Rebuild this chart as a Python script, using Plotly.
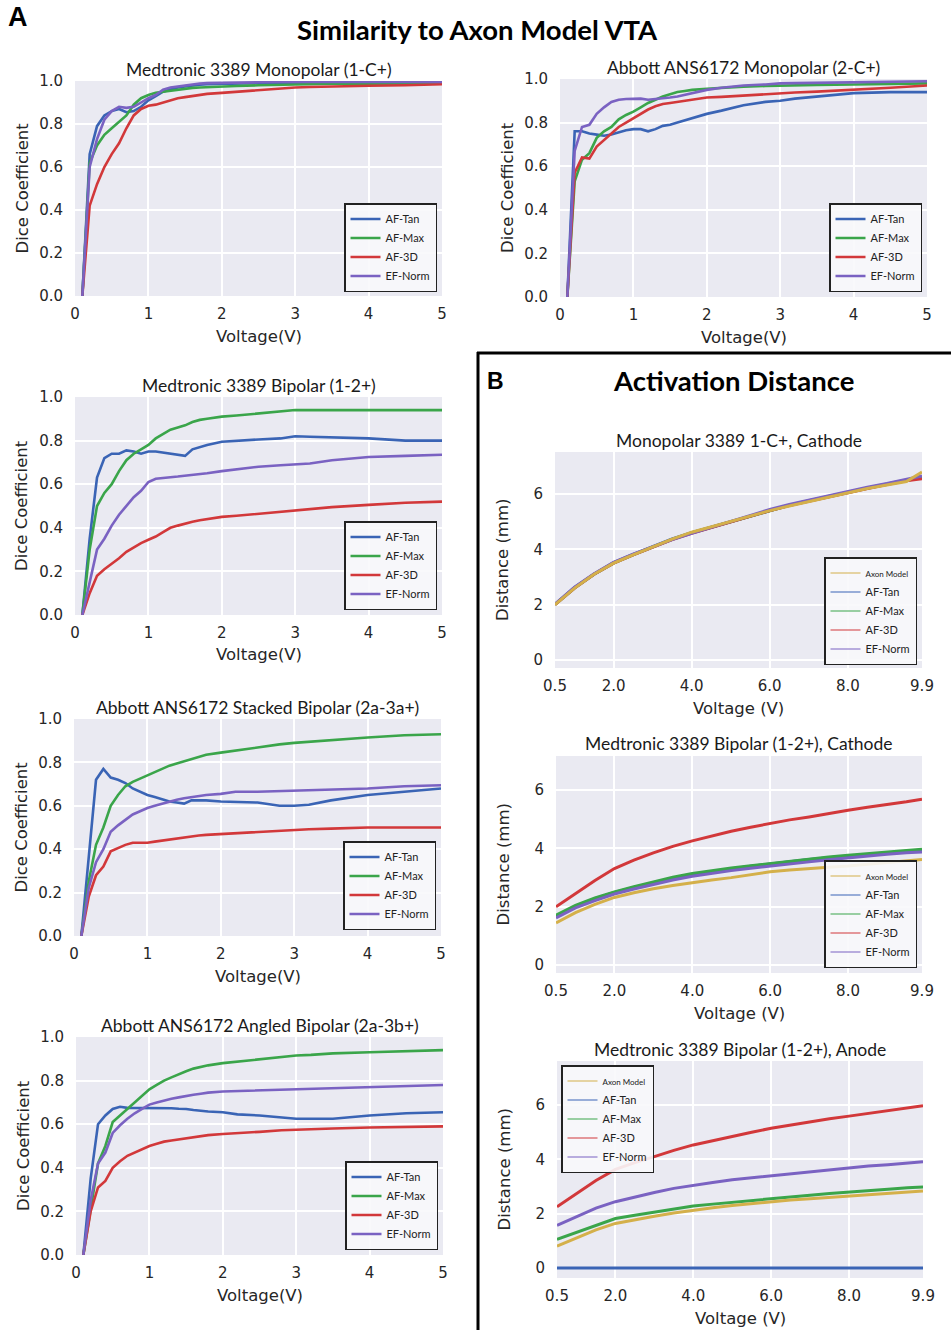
import plotly.graph_objects as go

W, H = 951, 1330

# ---------------- DATA ----------------
SERIES_A = ["AF-Tan", "AF-Max", "AF-3D", "EF-Norm"]
SERIES_B = ["Axon Model", "AF-Tan", "AF-Max", "AF-3D", "EF-Norm"]

volt_a = [0.1, 0.2, 0.3, 0.4, 0.5, 0.6, 0.7, 0.8, 0.9, 1.0, 1.1, 1.2, 1.3, 1.4,
          1.5, 1.6, 1.7, 1.8, 2.0, 2.2, 2.5, 2.8, 3.0, 3.2, 3.5, 4.0, 4.5, 5.0]

# Medtronic 3389 Monopolar (1-C+)
med_mono_tan = [0, .66, .79, .84, .86, .87, .855, .86, .88, .91, .93, .95, .96, .97,
                .975, .98, .983, .985, .987, .988, .99, .99, .99, .99, .99, .99, .99, .99]
med_mono_max = [0, .62, .70, .75, .78, .81, .84, .89, .92, .935, .945, .95, .955, .96,
                .965, .968, .97, .972, .975, .977, .98, .982, .985, .986, .987, .988, .989, .99]
med_mono_3d = [0, .42, .52, .60, .66, .71, .78, .84, .87, .885, .89, .90, .91, .92,
               .925, .93, .935, .94, .945, .95, .958, .965, .97, .972, .975, .978, .98, .985]
med_mono_norm = [0, .60, .73, .82, .86, .88, .875, .88, .90, .92, .935, .96, .97, .975,
                 .98, .985, .988, .99, .992, .993, .994, .995, .995, .995, .995, .995, .995, .995]

# Abbott ANS6172 Monopolar (2-C+)
abb_mono_tan = [0, .76, .76, .75, .745, .74, .745, .755, .765, .77, .77, .76, .77, .785,
                .79, .80, .81, .82, .84, .855, .88, .895, .90, .91, .92, .935, .94, .94]
abb_mono_max = [0, .53, .63, .66, .73, .76, .78, .815, .835, .85, .87, .89, .905, .92,
                .93, .94, .945, .95, .955, .96, .965, .968, .97, .972, .973, .975, .978, .98]
abb_mono_3d = [0, .57, .64, .635, .69, .72, .75, .78, .80, .82, .84, .86, .875, .885,
               .89, .895, .90, .905, .915, .918, .925, .93, .935, .938, .942, .95, .96, .97]
abb_mono_norm = [0, .67, .78, .79, .84, .87, .895, .905, .908, .91, .91, .905, .908, .91,
                 .915, .92, .928, .935, .95, .96, .97, .975, .98, .981, .983, .985, .988, .99]

# Medtronic 3389 Bipolar (1-2+)
med_bi_tan = [0, .35, .63, .72, .74, .74, .755, .75, .74, .75, .75, .745, .74, .735,
              .73, .76, .77, .78, .795, .80, .805, .81, .82, .818, .815, .81, .80, .80]
med_bi_max = [0, .30, .50, .56, .60, .66, .71, .74, .76, .78, .81, .83, .85, .86,
              .87, .885, .895, .90, .91, .915, .925, .935, .94, .94, .94, .94, .94, .94]
med_bi_3d = [0, .10, .18, .21, .235, .26, .29, .31, .33, .345, .36, .38, .40, .41,
             .42, .428, .435, .44, .45, .455, .465, .475, .48, .485, .495, .505, .515, .52]
med_bi_norm = [0, .15, .30, .35, .41, .46, .50, .54, .57, .61, .625, .63, .632, .635,
               .638, .642, .645, .65, .66, .668, .68, .687, .69, .695, .71, .725, .73, .735]

# Abbott ANS6172 Stacked Bipolar (2a-3a+)
abb_stack_tan = [0, .36, .72, .77, .73, .72, .705, .68, .665, .65, .64, .63, .62, .615,
                 .61, .625, .625, .625, .62, .618, .615, .60, .60, .605, .625, .65, .665, .68]
abb_stack_max = [0, .25, .42, .50, .60, .65, .69, .71, .725, .74, .755, .77, .785, .795,
                 .805, .815, .825, .835, .845, .855, .87, .883, .89, .895, .905, .915, .925, .93]
abb_stack_3d = [0, .18, .28, .32, .39, .405, .42, .43, .43, .43, .435, .44, .445, .45,
                .455, .46, .463, .466, .47, .473, .48, .486, .49, .492, .495, .50, .50, .50]
abb_stack_norm = [0, .22, .34, .40, .48, .51, .535, .56, .575, .59, .60, .61, .62, .628,
                  .635, .64, .645, .65, .655, .665, .665, .668, .67, .672, .675, .68, .69, .695]

# Abbott ANS6172 Angled Bipolar (2a-3b+)
abb_ang_tan = [0, .35, .60, .64, .67, .68, .675, .675, .675, .675, .675, .675, .673, .671,
               .67, .665, .66, .658, .655, .645, .64, .63, .625, .625, .625, .64, .65, .655]
abb_ang_max = [0, .22, .42, .50, .61, .64, .67, .70, .73, .76, .78, .80, .815, .83,
               .843, .855, .863, .87, .88, .887, .895, .908, .915, .918, .925, .93, .935, .94]
abb_ang_3d = [0, .20, .31, .34, .40, .43, .455, .47, .485, .50, .51, .52, .525, .53,
              .535, .54, .545, .55, .555, .558, .565, .572, .575, .578, .58, .585, .588, .59]
abb_ang_norm = [0, .25, .42, .47, .56, .595, .625, .65, .67, .69, .70, .71, .717, .723,
                .73, .735, .74, .745, .75, .752, .755, .758, .76, .762, .765, .77, .775, .78]

volt_b = [0.5, 1.0, 1.5, 2.0, 2.5, 3.0, 3.5, 4.0, 4.5, 5.0, 5.5, 6.0, 6.5, 7.0,
          7.5, 8.0, 8.5, 9.0, 9.5, 9.9]

# Monopolar 3389 1-C+, Cathode
mono_cat_axon = [2.0, 2.6, 3.1, 3.5, 3.8, 4.08, 4.37, 4.62, 4.82, 5.0, 5.2, 5.4, 5.57, 5.73,
                 5.9, 6.05, 6.2, 6.33, 6.45, 6.8]
mono_cat_tan = [2.02, 2.62, 3.1, 3.52, 3.82, 4.1, 4.38, 4.6, 4.8, 5.0, 5.22, 5.42, 5.6, 5.76,
                5.92, 6.07, 6.22, 6.36, 6.5, 6.62]
mono_cat_max = [2.0, 2.6, 3.1, 3.5, 3.8, 4.08, 4.36, 4.6, 4.8, 5.0, 5.21, 5.41, 5.59, 5.75,
                5.91, 6.06, 6.21, 6.35, 6.5, 6.6]
mono_cat_3d = [2.0, 2.6, 3.1, 3.5, 3.8, 4.08, 4.35, 4.58, 4.79, 4.99, 5.2, 5.4, 5.58, 5.74,
               5.9, 6.05, 6.2, 6.34, 6.48, 6.55]
mono_cat_norm = [2.02, 2.63, 3.12, 3.53, 3.83, 4.1, 4.35, 4.58, 4.8, 5.02, 5.23, 5.44, 5.62, 5.78,
                 5.95, 6.1, 6.25, 6.38, 6.52, 6.65]

# Medtronic 3389 Bipolar (1-2+), Cathode
bi_cat_axon = [1.45, 1.8, 2.08, 2.32, 2.48, 2.62, 2.73, 2.83, 2.92, 3.0, 3.1, 3.2, 3.26, 3.32,
               3.36, 3.4, 3.46, 3.52, 3.57, 3.62]
bi_cat_tan = [1.68, 2.02, 2.28, 2.49, 2.66, 2.83, 2.98, 3.11, 3.21, 3.31, 3.39, 3.47, 3.55, 3.62,
              3.68, 3.74, 3.8, 3.86, 3.91, 3.95]
bi_cat_max = [1.71, 2.05, 2.3, 2.51, 2.69, 2.86, 3.01, 3.14, 3.24, 3.33, 3.41, 3.49, 3.57, 3.64,
              3.71, 3.77, 3.83, 3.88, 3.93, 3.97]
bi_cat_3d = [2.0, 2.45, 2.9, 3.31, 3.6, 3.85, 4.07, 4.26, 4.43, 4.59, 4.73, 4.86, 4.98, 5.08,
             5.2, 5.31, 5.41, 5.5, 5.6, 5.69]
bi_cat_norm = [1.62, 1.96, 2.21, 2.44, 2.61, 2.77, 2.92, 3.05, 3.15, 3.24, 3.32, 3.4, 3.47, 3.54,
               3.61, 3.68, 3.74, 3.8, 3.85, 3.88]

# Medtronic 3389 Bipolar (1-2+), Anode
bi_an_axon = [0.8, 1.1, 1.4, 1.64, 1.78, 1.9, 2.02, 2.13, 2.22, 2.3, 2.37, 2.44, 2.5, 2.55,
              2.6, 2.64, 2.7, 2.75, 2.79, 2.83]
bi_an_tan = [0, 0, 0, 0, 0, 0, 0, 0, 0, 0, 0, 0, 0, 0, 0, 0, 0, 0, 0, 0]
bi_an_max = [1.05, 1.3, 1.55, 1.82, 1.94, 2.05, 2.17, 2.28, 2.35, 2.42, 2.49, 2.56, 2.62, 2.68,
             2.74, 2.8, 2.85, 2.9, 2.95, 2.98]
bi_an_3d = [2.25, 2.75, 3.22, 3.63, 3.88, 4.1, 4.33, 4.53, 4.69, 4.85, 5.0, 5.14, 5.26, 5.38,
            5.49, 5.59, 5.69, 5.78, 5.88, 5.97]
bi_an_norm = [1.57, 1.9, 2.2, 2.44, 2.62, 2.78, 2.93, 3.05, 3.15, 3.25, 3.32, 3.39, 3.47, 3.55,
              3.62, 3.69, 3.75, 3.8, 3.86, 3.91]

a_ticks = [0, 1, 2, 3, 4, 5]
a_yticks = [0.0, 0.2, 0.4, 0.6, 0.8, 1.0]
b_ticks = [0.5, 2.0, 4.0, 6.0, 8.0, 9.9]
b_tick_text = ["0.5", "2.0", "4.0", "6.0", "8.0", "9.9"]
b_yticks = [0, 2, 4, 6]

# ---------------- STYLE ----------------
COL = {"AF-Tan": "#3a64b5", "AF-Max": "#3aa54a", "AF-3D": "#d2383a",
       "EF-Norm": "#7a62c2", "Axon Model": "#d4b04a"}
BG = "#EAEAF2"
TICKF = dict(family="DejaVu Sans", size=15, color="#262626")
LABF = dict(family="DejaVu Sans", size=16.5, color="#262626")
TITF = dict(family="Lato", size=17.5, color="#1a1a1a")


def px(x):
    return x / W


def py(y):
    return 1 - y / H


panels = [
    # (kind, title, box(l,t,r,b), yrange, series data, legend corner, legend anchor)
    ("A", "Medtronic 3389 Monopolar (1-C+)", (75, 81, 442, 296), [0, 1],
     [med_mono_tan, med_mono_max, med_mono_3d, med_mono_norm], (437, 292), "br"),
    ("A", "Abbott ANS6172 Monopolar (2-C+)", (560, 79, 927, 297), [0, 1],
     [abb_mono_tan, abb_mono_max, abb_mono_3d, abb_mono_norm], (922, 292), "br"),
    ("A", "Medtronic 3389 Bipolar (1-2+)", (75, 397, 442, 615), [0, 1],
     [med_bi_tan, med_bi_max, med_bi_3d, med_bi_norm], (437, 610), "br"),
    ("A", "Abbott ANS6172 Stacked Bipolar (2a-3a+)", (74, 719, 441, 936), [0, 1],
     [abb_stack_tan, abb_stack_max, abb_stack_3d, abb_stack_norm], (436, 930), "br"),
    ("A", "Abbott ANS6172 Angled Bipolar (2a-3b+)", (76, 1037, 443, 1255), [0, 1],
     [abb_ang_tan, abb_ang_max, abb_ang_3d, abb_ang_norm], (438, 1250), "br"),
    ("B", "Monopolar 3389 1-C+, Cathode", (555, 452, 922, 668), [-0.29, 7.52],
     [mono_cat_axon, mono_cat_tan, mono_cat_max, mono_cat_3d, mono_cat_norm], (917, 665), "br"),
    ("B", "Medtronic 3389 Bipolar (1-2+), Cathode", (556, 756, 922, 973), [-0.27, 7.17],
     [bi_cat_axon, bi_cat_tan, bi_cat_max, bi_cat_3d, bi_cat_norm], (917, 968), "br"),
    ("B", "Medtronic 3389 Bipolar (1-2+), Anode", (557, 1061, 923, 1278), [-0.37, 7.62],
     [bi_an_axon, bi_an_tan, bi_an_max, bi_an_3d, bi_an_norm], (561, 1065), "tl"),
]

fig = go.Figure()
layout = dict(width=W, height=H, margin=dict(l=0, r=0, t=0, b=0),
              paper_bgcolor="white", plot_bgcolor=BG, showlegend=True)
annotations = []

for i, (kind, title, box, yr, data, lpos, lanchor) in enumerate(panels):
    n = i + 1
    xa = "x" if n == 1 else f"x{n}"
    ya = "y" if n == 1 else f"y{n}"
    xkey = "xaxis" if n == 1 else f"xaxis{n}"
    ykey = "yaxis" if n == 1 else f"yaxis{n}"
    lkey = "legend" if n == 1 else f"legend{n}"
    l, t, r, b = box

    if kind == "A":
        xs = volt_a
        names = SERIES_A
        xaxis = dict(range=[0, 5], tickvals=a_ticks, ticktext=[str(v) for v in a_ticks])
        yaxis = dict(range=yr, tickvals=a_yticks, ticktext=[f"{v:.1f}" for v in a_yticks])
        ylab, xlab = "Dice Coefficient", "Voltage(V)"
        lw = 2.6
    else:
        xs = volt_b
        names = SERIES_B
        xaxis = dict(range=[0.5, 9.9], tickvals=b_ticks, ticktext=b_tick_text)
        yaxis = dict(range=yr, tickvals=b_yticks, ticktext=[str(v) for v in b_yticks])
        ylab, xlab = "Distance (mm)", "Voltage (V)"
        lw = 3

    common = dict(showgrid=True, gridcolor="white", gridwidth=1.6, zeroline=False,
                  showline=False, tickfont=TICKF, ticks="outside", automargin=False,
                  tickcolor="rgba(0,0,0,0)", tickmode="array", fixedrange=True)
    xaxis.update(common, domain=[px(l), px(r)], anchor=ya, ticklen=4)
    yaxis.update(common, domain=[py(b), py(t)], anchor=xa, ticklen=8)
    layout[xkey] = xaxis
    layout[ykey] = yaxis

    # draw order: B panels draw the Axon Model last
    order = list(range(len(names)))
    if kind == "B":
        order = order[1:] + [0]
    for k in order:
        fig.add_trace(go.Scatter(
            x=xs, y=data[k], mode="lines", name=names[k], xaxis=xa, yaxis=ya,
            line=dict(color=COL[names[k]], width=lw),
            showlegend=(kind == "A"), legend=lkey, hoverinfo="skip"))
    if kind == "B":
        for k, nm in enumerate(names):
            label = nm if nm != "Axon Model" else "<span style='font-size:8px'>Axon Model</span>"
            fig.add_trace(go.Scatter(
                x=[None], y=[None], mode="lines", name=label, xaxis=xa, yaxis=ya,
                line=dict(color=COL[nm], width=1.2), legend=lkey, showlegend=True))

    # legend
    if lanchor == "br":
        lg = dict(x=px(lpos[0]), y=py(lpos[1]), xanchor="right", yanchor="bottom")
    else:
        lg = dict(x=px(lpos[0]), y=py(lpos[1]), xanchor="left", yanchor="top")
    lg.update(bgcolor="rgba(248,248,251,0.9)", bordercolor="#222", borderwidth=1.5,
              font=dict(family="Lato", size=11, color="#222"),
              itemwidth=30, tracegroupgap=0, traceorder="normal",
              itemclick=False, itemdoubleclick=False)
    layout[lkey] = lg

    cx = (l + r) / 2
    cy = (t + b) / 2
    # subplot title
    annotations.append(dict(text=title, x=px(cx), y=py(t - 12), xref="paper", yref="paper",
                            showarrow=False, font=TITF, xanchor="center", yanchor="middle"))
    # y label
    annotations.append(dict(text=ylab, x=px(l - 53), y=py(cy), xref="paper", yref="paper",
                            showarrow=False, font=LABF, textangle=-90,
                            xanchor="center", yanchor="middle"))
    # x label
    annotations.append(dict(text=xlab, x=px(cx), y=py(b + 40), xref="paper", yref="paper",
                            showarrow=False, font=LABF, xanchor="center", yanchor="middle"))

# panel headers
annotations += [
    dict(text="<b>A</b>", x=px(18), y=py(17), xref="paper", yref="paper", showarrow=False,
         font=dict(family="Liberation Sans", size=27, color="black"),
         xanchor="center", yanchor="middle"),
    dict(text="<b>Similarity to Axon Model VTA</b>", x=px(477), y=py(30), xref="paper",
         yref="paper", showarrow=False, font=dict(family="Lato", size=27.5, color="black"),
         xanchor="center", yanchor="middle"),
    dict(text="<b>B</b>", x=px(495), y=py(381), xref="paper", yref="paper", showarrow=False,
         font=dict(family="Liberation Sans", size=23, color="black"),
         xanchor="center", yanchor="middle"),
    dict(text="<b>Activation Distance</b>", x=px(733), y=py(380), xref="paper",
         yref="paper", showarrow=False, font=dict(family="Lato", size=27.5, color="black"),
         xanchor="center", yanchor="middle"),
]
layout["annotations"] = annotations
layout["shapes"] = [
    dict(type="line", xref="paper", yref="paper", x0=px(478), x1=px(478),
         y0=py(352), y1=0, line=dict(color="black", width=3)),
    dict(type="line", xref="paper", yref="paper", x0=px(477), x1=1,
         y0=py(353), y1=py(353), line=dict(color="black", width=3)),
]
fig.update_layout(**layout)
fig.write_html("out.html", config={"displayModeBar": False},
               post_script="document.body.style.margin='0';document.body.style.overflow='hidden';")
